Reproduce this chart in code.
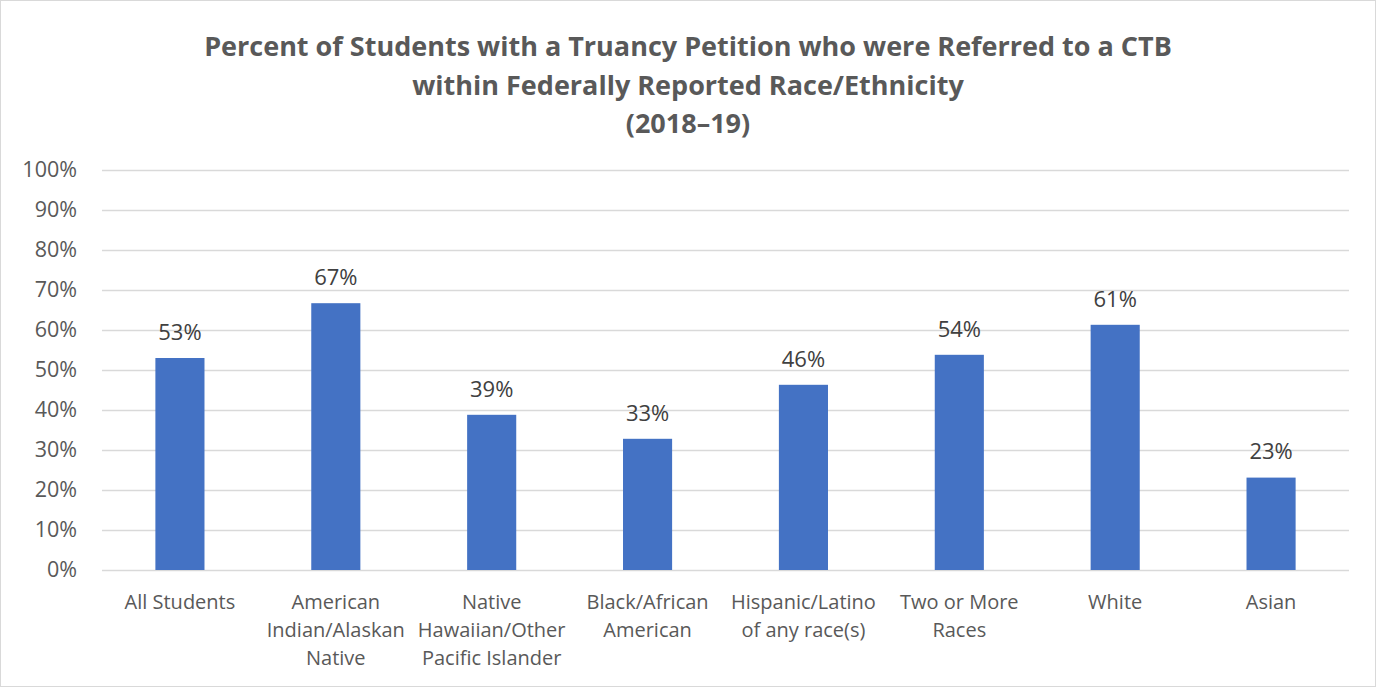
<!DOCTYPE html>
<html>
<head>
<meta charset="utf-8">
<script src="https://cdn.jsdelivr.net/npm/d3@7"></script>
<style>
  body { margin: 0; background: #fff; }
  svg text { font-family: "Open Sans", "Noto Sans", sans-serif; }
</style>
</head>
<body>
<div id="container"></div>
<script>
const titleLines = [
  'Percent of Students with a Truancy Petition who were Referred to a CTB',
  'within Federally Reported Race/Ethnicity',
  '(2018\u201319)',
];

const categories = [
  ['All Students'],
  ['American', 'Indian/Alaskan', 'Native'],
  ['Native', 'Hawaiian/Other', 'Pacific Islander'],
  ['Black/African', 'American'],
  ['Hispanic/Latino', 'of any race(s)'],
  ['Two or More', 'Races'],
  ['White'],
  ['Asian'],
];

const values = [53.0, 66.7, 38.8, 32.8, 46.3, 53.8, 61.3, 23.1];
const valueLabels = ['53%', '67%', '39%', '33%', '46%', '54%', '61%', '23%'];
const yTicks = [0, 10, 20, 30, 40, 50, 60, 70, 80, 90, 100];

const width = 1377;
const height = 688;
const margin = { top: 170, right: 28, bottom: 118, left: 102 };

const svg = d3
  .select('#container')
  .append('svg')
  .attr('width', width)
  .attr('height', height);

// chart border
svg
  .append('rect')
  .attr('x', 0.5)
  .attr('y', 0.5)
  .attr('width', width - 2)
  .attr('height', height - 2)
  .attr('fill', '#fff')
  .attr('stroke', '#d9d9d9');

svg
  .append('text')
  .attr('text-anchor', 'middle')
  .attr('font-weight', 'bold')
  .attr('font-size', '27px')
  .attr('fill', '#595959')
  .selectAll('tspan')
  .data(titleLines)
  .enter()
  .append('tspan')
  .attr('x', 688)
  .attr('y', (d, i) => 47 + i * 38.5)
  .attr('dy', '0.35em')
  .text(d => d);

const x = d3
  .scaleBand()
  .domain(d3.range(categories.length))
  .range([margin.left, width - margin.right])
  .padding(0);

const y = d3
  .scaleLinear()
  .domain([0, 100])
  .range([height - margin.bottom, margin.top]);

const barWidth = x.bandwidth() * 0.315;

// gridlines + y labels
const yAxis = svg
  .append('g')
  .attr('transform', `translate(${margin.left},0)`)
  .call(
    d3
      .axisLeft(y)
      .tickValues(yTicks)
      .tickSize(-(width - margin.left - margin.right))
      .tickPadding(25)
      .tickFormat(d => `${d}%`)
  );
yAxis.select('.domain').remove();
yAxis
  .selectAll('.tick line')
  .attr('stroke', '#d9d9d9')
  .attr('stroke-width', 1.5);
yAxis
  .selectAll('.tick text')
  .attr('fill', '#595959')
  .attr('font-size', '21.5px');

svg
  .selectAll('.bar')
  .data(values)
  .enter()
  .append('rect')
  .attr('class', 'bar')
  .attr('x', (d, i) => x(i) + (x.bandwidth() - barWidth) / 2)
  .attr('y', d => y(d))
  .attr('width', barWidth)
  .attr('height', d => y(0) - y(d))
  .attr('fill', '#4472c4');

svg
  .selectAll('.value-label')
  .data(values)
  .enter()
  .append('text')
  .attr('class', 'value-label')
  .attr('text-anchor', 'middle')
  .attr('x', (d, i) => x(i) + x.bandwidth() / 2)
  .attr('y', d => y(d) - 26)
  .attr('dy', '0.35em')
  .attr('font-size', '22px')
  .attr('fill', '#404040')
  .text((d, i) => valueLabels[i]);

const catLabel = svg
  .selectAll('.cat-label')
  .data(categories)
  .enter()
  .append('text')
  .attr('class', 'cat-label')
  .attr('text-anchor', 'middle')
  .attr('font-size', '20px')
  .attr('fill', '#595959');

catLabel
  .selectAll('tspan')
  .data((d, i) => d.map(line => ({ line, i })))
  .enter()
  .append('tspan')
  .attr('x', d => x(d.i) + x.bandwidth() / 2)
  .attr('y', (d, j) => y(0) + 32 + j * 28)
  .attr('dy', '0.35em')
  .text(d => d.line);
</script>
</body>
</html>
